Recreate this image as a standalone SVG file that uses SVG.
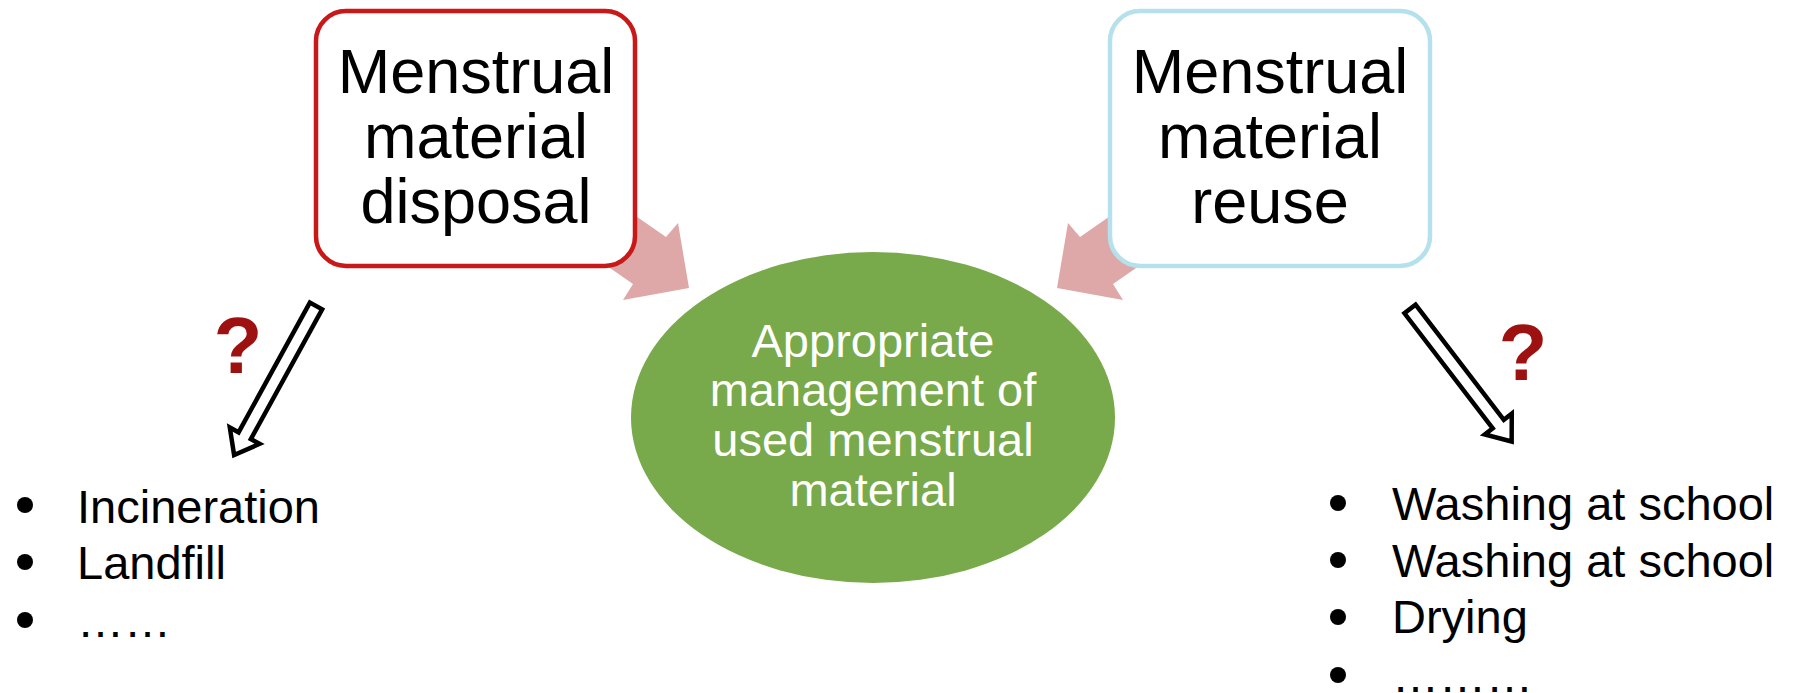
<svg xmlns="http://www.w3.org/2000/svg" width="1800" height="693" viewBox="0 0 1800 693">
<style>
text{font-family:"Liberation Sans",Arial,sans-serif}
.box{fill:#ffffff;stroke-width:4.5}
.boxtxt{font-size:63px;fill:#000;text-anchor:middle}
.ctxt{font-size:47px;fill:#ffffff;text-anchor:middle}
.list{font-size:47px;fill:#000}
.q{font-size:80px;font-weight:bold;fill:#9e1111;text-anchor:middle}
.pink{fill:#dfa8a8}
.hollow{fill:#ffffff;stroke:#000;stroke-width:4.5;stroke-linejoin:miter}
</style>
<rect width="1800" height="693" fill="#ffffff"/>
<g id="connectors">
  <polygon class="pink" points="584,180 666,237 678,223 689,288 623,300 633,284 551,227"/>
  <polygon class="pink" points="1162,180 1080,237 1068,223 1057,288 1123,300 1113,284 1195,227"/>
  <polygon class="hollow" transform="translate(316,306) rotate(118.8)" points="0,-7 148,-7 148,-17 170,0 148,17 148,7 0,7"/>
  <polygon class="hollow" transform="translate(1410,309) rotate(52.5)" points="0,-7 145,-7 145,-17 167,0 145,17 145,7 0,7"/>
</g>
<g id="node-disposal">
  <rect class="box" x="316" y="11" width="319" height="255" rx="30" stroke="#c81818"/>
  <text class="boxtxt" x="476" y="93">Menstrual</text>
  <text class="boxtxt" x="476" y="158">material</text>
  <text class="boxtxt" x="476" y="223">disposal</text>
</g>
<g id="node-reuse">
  <rect class="box" x="1110" y="11" width="320" height="255" rx="30" stroke="#b4e1ec"/>
  <text class="boxtxt" x="1270" y="93">Menstrual</text>
  <text class="boxtxt" x="1270" y="158">material</text>
  <text class="boxtxt" x="1270" y="223">reuse</text>
</g>
<g id="node-center">
  <ellipse cx="873" cy="417.5" rx="242" ry="165.5" fill="#78a94a"/>
  <text class="ctxt" x="873" y="357">Appropriate</text>
  <text class="ctxt" x="873" y="406">management of</text>
  <text class="ctxt" x="873" y="456">used menstrual</text>
  <text class="ctxt" x="873" y="506">material</text>
</g>
<g id="q-left"><text class="q" x="238" y="373">?</text></g>
<g id="q-right"><text class="q" x="1523" y="380">?</text></g>
<g id="list-left">
  <circle cx="25" cy="505" r="8"/>
  <circle cx="25" cy="562" r="8"/>
  <circle cx="25" cy="620" r="8"/>
  <text class="list" x="77" y="523">Incineration</text>
  <text class="list" x="77" y="579">Landfill</text>
  <text class="list" x="77" y="637">……</text>
</g>
<g id="list-right">
  <circle cx="1338" cy="503" r="8"/>
  <circle cx="1338" cy="560" r="8"/>
  <circle cx="1338" cy="617" r="8"/>
  <circle cx="1338" cy="675" r="8"/>
  <text class="list" x="1392" y="520">Washing at school</text>
  <text class="list" x="1392" y="577">Washing at school</text>
  <text class="list" x="1392" y="633">Drying</text>
  <text class="list" x="1392" y="692">………</text>
</g>
</svg>
